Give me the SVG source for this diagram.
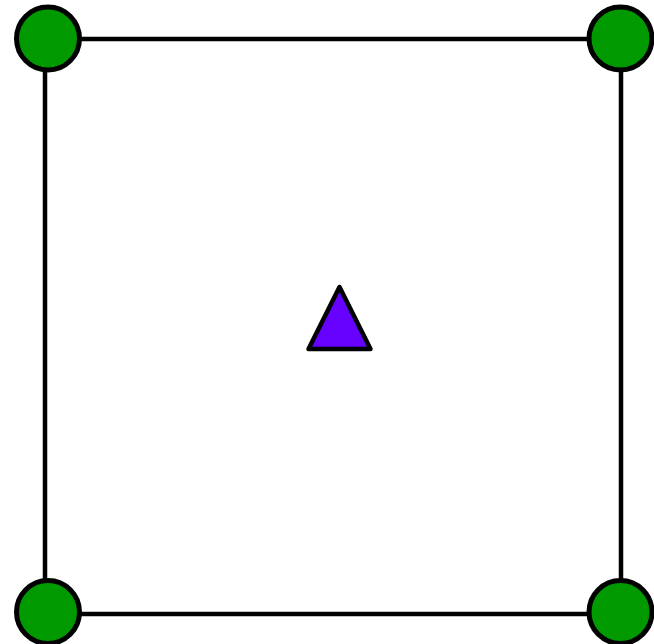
<svg xmlns="http://www.w3.org/2000/svg" width="654" height="644" viewBox="0 0 654 644">
<style>
.edge{stroke:#000;stroke-width:4.5;fill:none}
.node{fill:#009900;stroke:#000;stroke-width:5}
.tri{fill:#6600ff;stroke:#000;stroke-width:4.5;stroke-linejoin:round}
</style>
<rect width="654" height="644" fill="#fff"/>
<g id="connectors">
<line class="edge" x1="45" y1="39" x2="621" y2="39"/>
<line class="edge" x1="45" y1="614" x2="621" y2="614"/>
<line class="edge" x1="45" y1="39" x2="45" y2="614"/>
<line class="edge" x1="621" y1="39" x2="621" y2="614"/>
</g>
<g id="n1"><circle class="node" cx="48" cy="38.5" r="31.5"/></g>
<g id="n2"><circle class="node" cx="620.5" cy="38.5" r="31.5"/></g>
<g id="n3"><circle class="node" cx="48" cy="612" r="31.5"/></g>
<g id="n4"><circle class="node" cx="620.5" cy="612" r="31.5"/></g>
<g id="center"><polygon class="tri" points="339.5,287 308.5,349 370.5,349"/></g>
</svg>
